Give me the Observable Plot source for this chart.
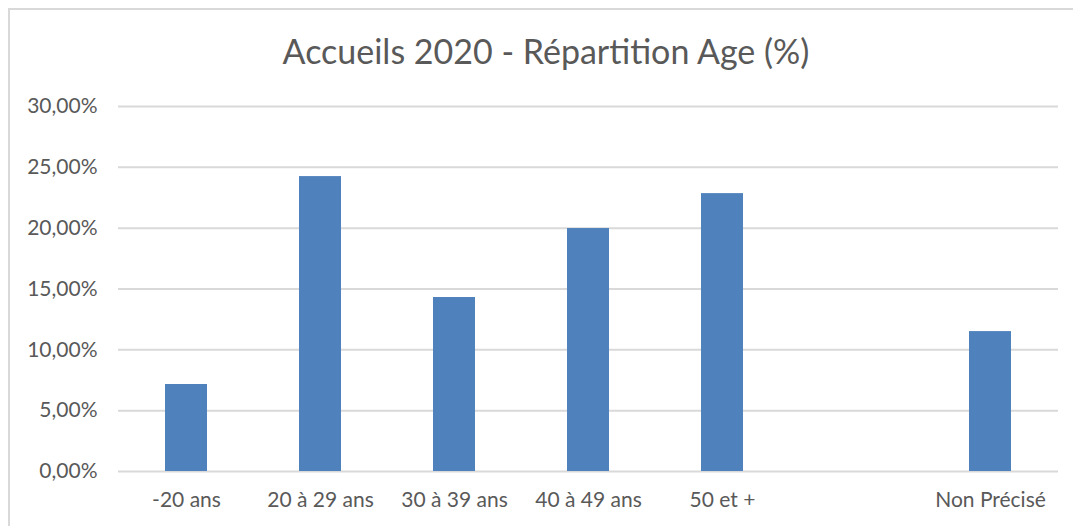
<!DOCTYPE html>
<html><head><meta charset="utf-8">
<script src="https://cdn.jsdelivr.net/npm/d3@7"></script>
<script src="https://cdn.jsdelivr.net/npm/@observablehq/plot@0.6"></script>
<style>
html,body{margin:0;padding:0;background:#fff;width:1073px;height:526px;overflow:hidden;}
#frame{position:absolute;left:8px;top:8px;width:1080px;height:540px;border:2px solid #d9d9d9;box-sizing:border-box;}
#title{position:absolute;left:0;top:30px;width:1092px;text-align:center;font-family:Lato,"Open Sans",sans-serif;font-size:34px;color:#595959;}
#chart{position:absolute;left:0;top:80px;}
</style></head>
<body>
<div id="frame"></div>
<div id="title">Accueils 2020 - Répartition Age (%)</div>
<div id="chart"></div>
<script>
const categories = ["-20 ans", "20 à 29 ans", "30 à 39 ans", "40 à 49 ans", "50 et +", "", "Non Précisé"];
const barCategories = ["-20 ans", "20 à 29 ans", "30 à 39 ans", "40 à 49 ans", "50 et +", "Non Précisé"];
const values = [7.15, 24.24, 14.3, 19.97, 22.84, 11.5];
const yTicks = [0, 5, 10, 15, 20, 25, 30];

const data = barCategories.map((c, i) => ({cat: c, value: values[i]}));
const fmt = v => v.toFixed(2).replace(".", ",") + "%";

const chart = Plot.plot({
  width: 1073,
  height: 446,
  marginTop: 26,
  marginBottom: 55,
  marginLeft: 118,
  marginRight: 15,
  style: {fontFamily: "Lato, 'Open Sans', sans-serif", fontSize: "21px", color: "#595959", background: "transparent"},
  x: {domain: categories, paddingInner: 0.69, paddingOuter: 0.34, label: null},
  y: {domain: [0, 30], label: null},
  marks: [
    Plot.gridY(yTicks, {stroke: "#d9d9d9", strokeOpacity: 1, strokeWidth: 2}),
    Plot.barY(data, {x: "cat", y: "value", fill: "#4f81bd"}),
    Plot.axisX({tickSize: 0, tickPadding: 21, fontSize: 21}),
    Plot.axisY({ticks: yTicks, tickSize: 0, tickPadding: 21, tickFormat: fmt, fontSize: 21})
  ]
});
document.getElementById("chart").appendChild(chart);
</script>
</body></html>
